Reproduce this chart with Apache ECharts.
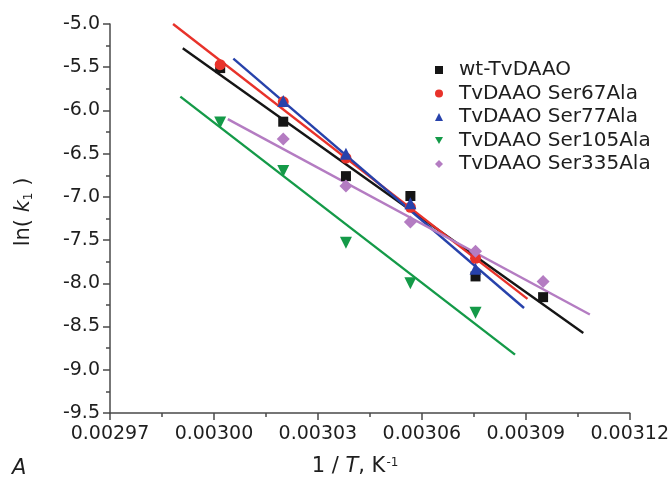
<!DOCTYPE html>
<html>
<head>
<meta charset="utf-8">
<script src="https://cdn.jsdelivr.net/npm/echarts@6/dist/echarts.min.js"></script>
<style>html,body{margin:0;padding:0;background:#fff}#c{width:672px;height:488px}</style>
</head>
<body>
<div id="c"></div>
<script>
// 1/T values (K^-1)
var invT = [0.0030018, 0.0030200, 0.0030381, 0.0030567, 0.0030755, 0.0030950];
var seriesNames = ['wt-TvDAAO', 'TvDAAO Ser67Ala', 'TvDAAO Ser77Ala', 'TvDAAO Ser105Ala', 'TvDAAO Ser335Ala'];
// ln(k1) values, aligned to invT (null = no point)
var wtVals    = [-5.51, -6.13, -6.76, -6.99, -7.92, -8.16];
var s67Vals   = [-5.47, -5.90, -6.55, -7.12, -7.71, null];
var s77Vals   = [null, -5.89, -6.50, -7.075, -7.83, null];
var s105Vals  = [-6.14, -6.70, -7.53, -8.00, -8.34, null];
var s335Vals  = [null, -6.33, -6.875, -7.29, -7.63, -7.98];
// fitted line endpoints [x, y]
var wtFit   = [[0.0029910, -5.28], [0.0031066, -8.575]];
var s67Fit  = [[0.0029882, -5.00], [0.0030905, -8.18]];
var s77Fit  = [[0.0030056, -5.40], [0.0030895, -8.285]];
var s105Fit = [[0.0029903, -5.84], [0.0030869, -8.825]];
var s335Fit = [[0.0030040, -6.10], [0.0031085, -8.36]];
// tick settings
var xMin = 0.00297, xMax = 0.00312, xStep = 0.00003;
var yMin = -9.5, yMax = -5.0, yStep = 0.5;

var colors = ['#151515', '#e8322a', '#2742ab', '#149a48', '#b47cc2'];
var symbols = ['rect', 'circle', 'triangle', 'path://M0,0 L10,0 L5,9 Z', 'diamond'];
var symSizes = [10, 11, 12, 12, 13];
var valueSets = [wtVals, s67Vals, s77Vals, s105Vals, s335Vals];
var fits = [wtFit, s67Fit, s77Fit, s105Fit, s335Fit];

function pts(vals) {
  var out = [];
  for (var i = 0; i < invT.length; i++) if (vals[i] !== null) out.push([invT[i], vals[i]]);
  return out;
}

var series = [];
for (var i = 0; i < 5; i++) {
  series.push({
    type: 'line', name: seriesNames[i] + ' fit', data: fits[i], symbol: 'none',
    lineStyle: {color: colors[i], width: 2.4}, silent: true, z: 2
  });
}
for (var i = 0; i < 5; i++) {
  series.push({
    type: 'scatter', name: seriesNames[i], data: pts(valueSets[i]),
    symbol: symbols[i], symbolSize: symSizes[i],
    itemStyle: {color: colors[i], opacity: 1}, z: 3
  });
}

var FONT = 'DejaVu Sans';
var chart = echarts.init(document.getElementById('c'));
chart.setOption({
  backgroundColor: '#fff',
  animation: false,
  grid: {left: 110, right: 39, top: 24, bottom: 75},
  xAxis: {
    type: 'value', min: xMin, max: xMax, interval: xStep,
    axisLine: {lineStyle: {color: '#4a4a4a', width: 1.5}},
    axisTick: {length: 7, lineStyle: {color: '#4a4a4a', width: 1.5}},
    minorTick: {show: true, splitNumber: 2, length: 4, lineStyle: {color: '#4a4a4a', width: 1.5}},
    splitLine: {show: false},
    axisLabel: {color: '#1e1e1e', fontSize: 19, fontFamily: FONT, margin: 12,
      formatter: function (v) { return v.toFixed(5); }}
  },
  yAxis: {
    type: 'value', min: yMin, max: yMax, interval: yStep,
    axisLine: {show: true, lineStyle: {color: '#4a4a4a', width: 1.5}},
    axisTick: {show: true, length: 7, lineStyle: {color: '#4a4a4a', width: 1.5}},
    minorTick: {show: true, splitNumber: 2, length: 4, lineStyle: {color: '#4a4a4a', width: 1.5}},
    splitLine: {show: false},
    axisLabel: {color: '#1e1e1e', fontSize: 19, fontFamily: FONT, margin: 10,
      formatter: function (v) { return v.toFixed(1); }}
  },
  legend: {
    data: seriesNames.map(function (n, i) { return {name: n, icon: symbols[i], itemStyle: {opacity: 1}}; }),
    orient: 'vertical', left: 430, top: 55, itemWidth: 8, itemHeight: 8, itemGap: 3.5,
    textStyle: {color: '#1e1e1e', fontSize: 20, fontFamily: FONT, padding: [0, 0, 0, 11]}
  },
  graphic: [
    {type: 'text', left: 12, top: 458,
      style: {text: 'A', font: 'italic 21px "' + FONT + '"', fill: '#1e1e1e'}},
    {type: 'text', x: 355, y: 467,
      style: {text: '1 / {i|T}, K{s|-1}', fill: '#1e1e1e', font: '21px "' + FONT + '"',
        align: 'center', verticalAlign: 'middle',
        rich: {i: {fontStyle: 'italic', fontSize: 21, fontFamily: FONT, fill: '#1e1e1e'},
               s: {fontSize: 12, fontFamily: FONT, verticalAlign: 'top', padding: [0, 0, 8, 1], fill: '#1e1e1e'}}}},
    {type: 'text', x: 24, y: 212, rotation: Math.PI / 2,
      style: {text: 'ln( {i|k}{s|1} )', fill: '#1e1e1e', font: '21px "' + FONT + '"',
        align: 'center', verticalAlign: 'middle',
        rich: {i: {fontStyle: 'italic', fontSize: 21, fontFamily: FONT, fill: '#1e1e1e'},
               s: {fontSize: 12, fontFamily: FONT, verticalAlign: 'bottom', padding: [8, 0, 0, 0], fill: '#1e1e1e'}}}}
  ],
  series: series
});
</script>
</body>
</html>
